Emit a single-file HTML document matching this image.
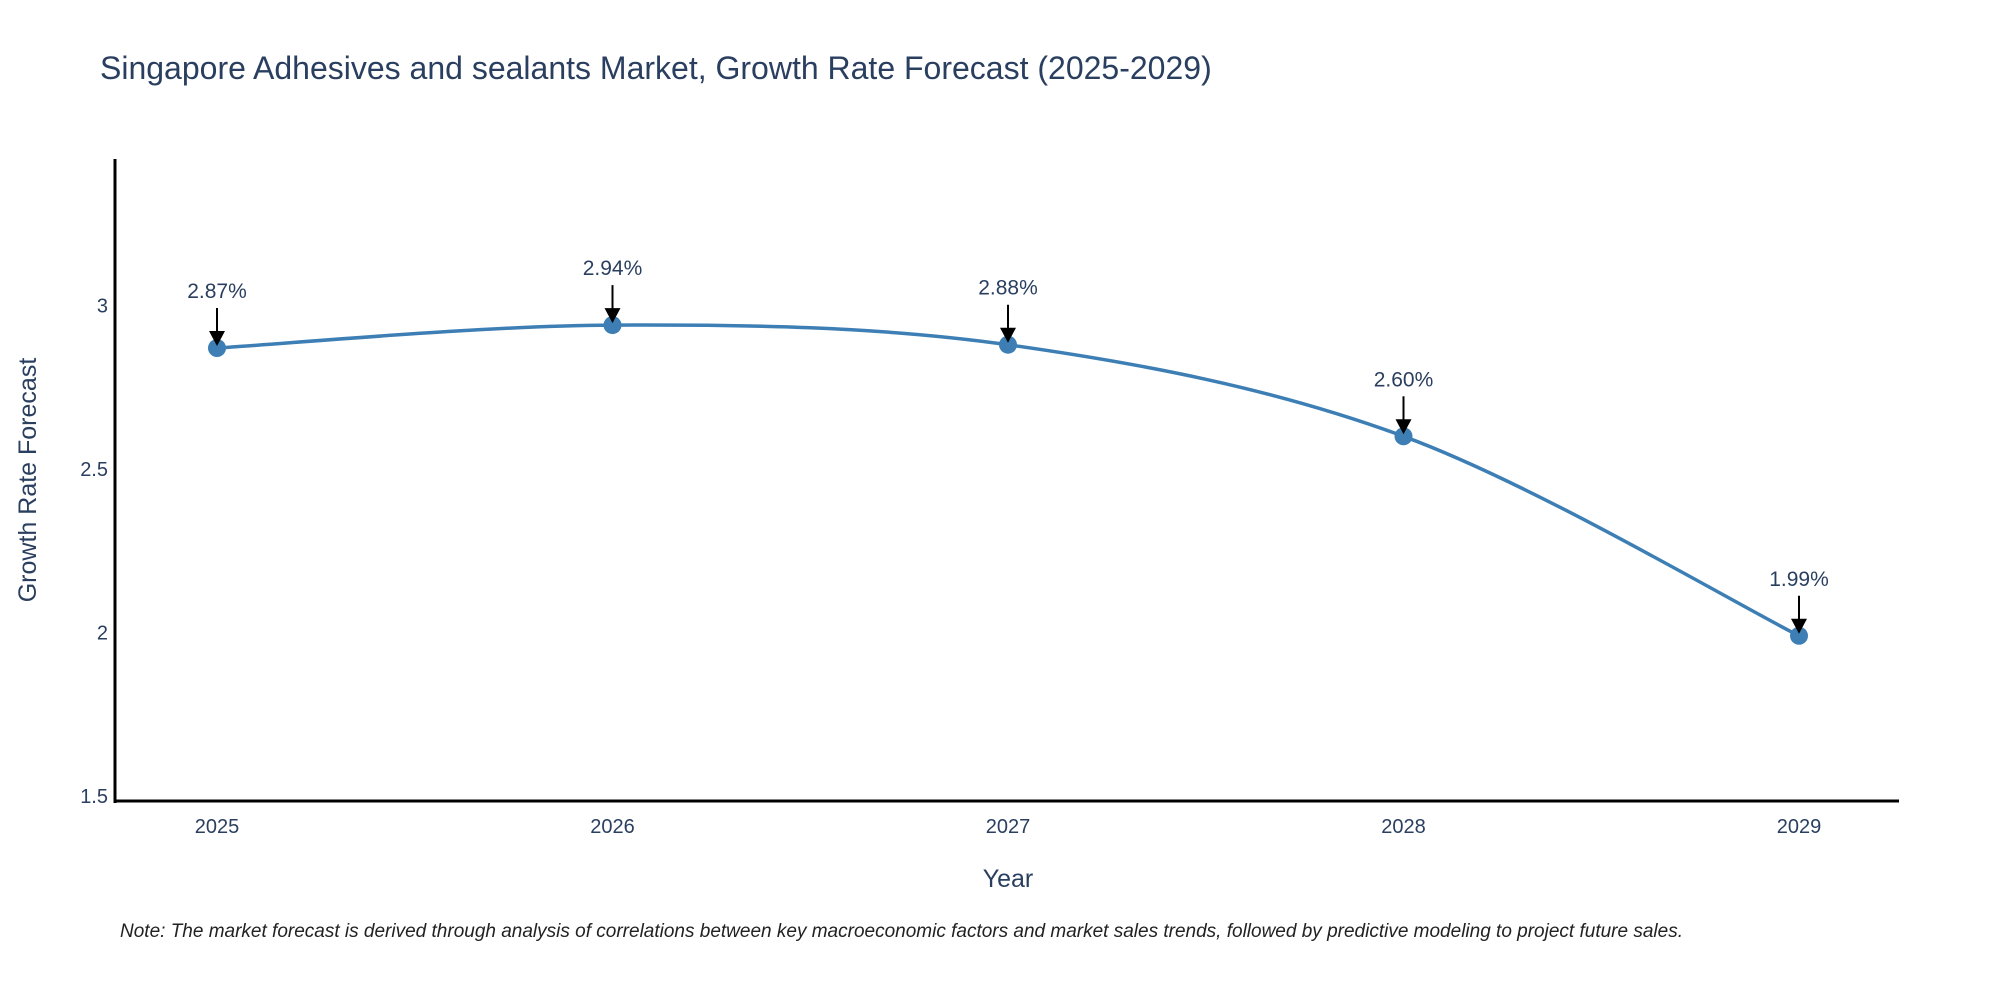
<!DOCTYPE html>
<html><head><meta charset="utf-8"><style>
body{margin:0;background:#fff;}
svg text{font-family:"Liberation Sans",sans-serif;}
</style></head><body>
<svg id="chart" width="2000" height="1000" viewBox="0 0 2000 1000" xmlns="http://www.w3.org/2000/svg">
<text x="100" y="79" font-size="32" fill="#2a3f5f">Singapore Adhesives and sealants Market, Growth Rate Forecast (2025-2029)</text>
<g id="plot"></g>
<line x1="115" y1="159" x2="115" y2="803" stroke="#000" stroke-width="3"/>
<line x1="114" y1="801" x2="1899" y2="801" stroke="#000" stroke-width="3"/>
<text transform="translate(36,480) rotate(-90)" text-anchor="middle" font-size="25" fill="#2a3f5f">Growth Rate Forecast</text>
<text x="1008" y="887" text-anchor="middle" font-size="25" fill="#2a3f5f">Year</text>
<text x="120" y="937" font-size="19" font-style="italic" fill="#222">Note: The market forecast is derived through analysis of correlations between key macroeconomic factors and market sales trends, followed by predictive modeling to project future sales.</text>
</svg>
<script>
const years = ["2025","2026","2027","2028","2029"];
const values = [2.87, 2.94, 2.88, 2.60, 1.99];
const labels = ["2.87%","2.94%","2.88%","2.60%","1.99%"];
const yTicks = [1.5, 2, 2.5, 3];
const yTickLabels = ["1.5","2","2.5","3"];
const NS="http://www.w3.org/2000/svg";
const g=document.getElementById('plot');
function xs(i){return 217+i*395.5;}
function ys(v){return 796-(v-1.5)*327;}
function mk(t,a){const e=document.createElementNS(NS,t);for(const k in a)e.setAttribute(k,a[k]);g.appendChild(e);return e;}
yTicks.forEach((t,i)=>{const e=mk('text',{x:108,y:ys(t)+7,'text-anchor':'end','font-size':20,fill:'#2a3f5f'});e.textContent=yTickLabels[i];

});
years.forEach((y,i)=>{const e=mk('text',{x:xs(i),y:833,'text-anchor':'middle','font-size':20,fill:'#2a3f5f'});e.textContent=y;

});
const P=values.map((v,i)=>[xs(i),ys(v)]);
let d='M'+P[0][0]+','+P[0][1];
for(let i=0;i<P.length-1;i++){const p0=P[Math.max(0,i-1)],p1=P[i],p2=P[i+1],p3=P[Math.min(P.length-1,i+2)];
const c1=[p1[0]+(p2[0]-p0[0])/6,p1[1]+(p2[1]-p0[1])/6],c2=[p2[0]-(p3[0]-p1[0])/6,p2[1]-(p3[1]-p1[1])/6];
d+=' C'+c1+' '+c2+' '+p2;}
const line=mk('path',{d:d,fill:'none',stroke:'#3d7fb5','stroke-width':3.5});


P.forEach((p,i)=>{
const c=mk('circle',{cx:p[0],cy:p[1],r:9,fill:'#3d7fb5'});


const l=mk('line',{x1:p[0],y1:p[1]-40,x2:p[0],y2:p[1]-14,stroke:'#000','stroke-width':2});


const h=mk('polygon',{points:(p[0]-8)+','+(p[1]-17)+' '+(p[0]+8)+','+(p[1]-17)+' '+p[0]+','+(p[1]-2),fill:'#000'});


const t=mk('text',{x:p[0],y:p[1]-50,'text-anchor':'middle','font-size':21,fill:'#2a3f5f'});t.textContent=labels[i];


});
</script>
</body></html>
